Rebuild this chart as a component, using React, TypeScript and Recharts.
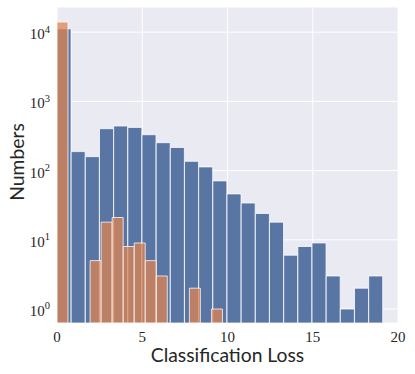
import { BarChart, Bar, XAxis, YAxis, CartesianGrid, Label } from 'recharts';

const W = 415;
const H = 374;

// blue histogram: 23 equal bins starting at 0
const blueBinWidth = 0.831;
const blueCounts = [11200, 188, 159, 403, 441, 421, 330, 253, 216, 136, 113, 71, 46, 34, 24, 18, 6, 8, 9, 3, 1, 2, 3];

// orange histogram: 15 equal bins starting at 0 (null = empty bin)
const orangeBinWidth = 0.647;
const orangeCounts = [14000, null, null, 5, 18, 21, 8, 9, 5, 3, null, null, 2, null, 1];

const xTicks = [0, 5, 10, 15, 20];
const yTicks = [1, 10, 100, 1000, 10000];
const xDomain = [0, 20];
const yDomain = [0.628, 23100];

const blueData = blueCounts.map((count, i) => ({ x: (i + 0.5) * blueBinWidth, count }));
const orangeData = orangeCounts.map((count, i) => ({ x: (i + 0.5) * orangeBinWidth, count }));

const serif = "'Liberation Serif', 'DejaVu Serif', serif";
const sans = "Lato, 'Open Sans', sans-serif";
const ink = '#262626';

const YTick = ({ x, y, payload }: any) => (
  <text x={x - 7} y={y + 7} textAnchor="end" fontFamily={serif} fontSize={15} fill={ink}>
    10
    <tspan dy={-6.6} fontSize={10.5}>
      {Math.round(Math.log10(payload.value))}
    </tspan>
  </text>
);

const XTick = ({ x, y, payload }: any) => (
  <text x={x} y={y + 18.7} textAnchor="middle" fontFamily={serif} fontSize={15} fill={ink}>
    {payload.value}
  </text>
);

const YLabel = ({ viewBox }: any) => {
  const cx = viewBox.x + 24;
  const cy = viewBox.y + viewBox.height / 2 - 3;
  return (
    <text x={cx} y={cy} transform={`rotate(-90, ${cx}, ${cy})`} textAnchor="middle" fontFamily={sans} fontSize={19.3} fill={ink}>
      Numbers
    </text>
  );
};

const XLabel = ({ viewBox }: any) => (
  <text x={viewBox.x + viewBox.width / 2} y={viewBox.y + 38.7} textAnchor="middle" fontFamily={sans} fontSize={19.3} fill={ink}>
    Classification Loss
  </text>
);

export default function App() {
  return (
    <div style={{ position: 'absolute', left: 0, top: 0, width: W, height: H }}>
      <div style={{ position: 'absolute', left: 0, top: 0 }}>
        <BarChart width={W} height={H} data={blueData} margin={{ top: 7, right: 17, bottom: 0, left: 0 }} barCategoryGap={0} barGap={0}>
          <CartesianGrid fill="#EAEAF2" stroke="#ffffff" strokeWidth={1} />
          <XAxis
            dataKey="x"
            type="number"
            domain={xDomain}
            ticks={xTicks}
            height={51}
            axisLine={false}
            tickLine={false}
            tickSize={0}
            tickMargin={0}
            tick={<XTick />}
          >
            <Label content={<XLabel />} />
          </XAxis>
          <YAxis
            type="number"
            scale="log"
            domain={yDomain}
            allowDataOverflow
            ticks={yTicks}
            width={57}
            axisLine={false}
            tickLine={false}
            tickSize={0}
            tickMargin={0}
            tick={<YTick />}
          >
            <Label content={<YLabel />} />
          </YAxis>
          <Bar dataKey="count" fill="#5975A4" stroke="#ffffff" strokeOpacity={0.75} strokeWidth={1} isAnimationActive={false} />
        </BarChart>
      </div>
      <div style={{ position: 'absolute', left: 0, top: 0 }}>
        <BarChart width={W} height={H} data={orangeData} margin={{ top: 7, right: 17, bottom: 51, left: 57 }} barCategoryGap={0} barGap={0}>
          <XAxis dataKey="x" type="number" domain={xDomain} hide />
          <YAxis type="number" scale="log" domain={yDomain} allowDataOverflow hide />
          <Bar dataKey="count" fill="#DD8452" fillOpacity={0.75} stroke="#ffffff" strokeOpacity={0.75} strokeWidth={1} isAnimationActive={false} />
        </BarChart>
      </div>
    </div>
  );
}
